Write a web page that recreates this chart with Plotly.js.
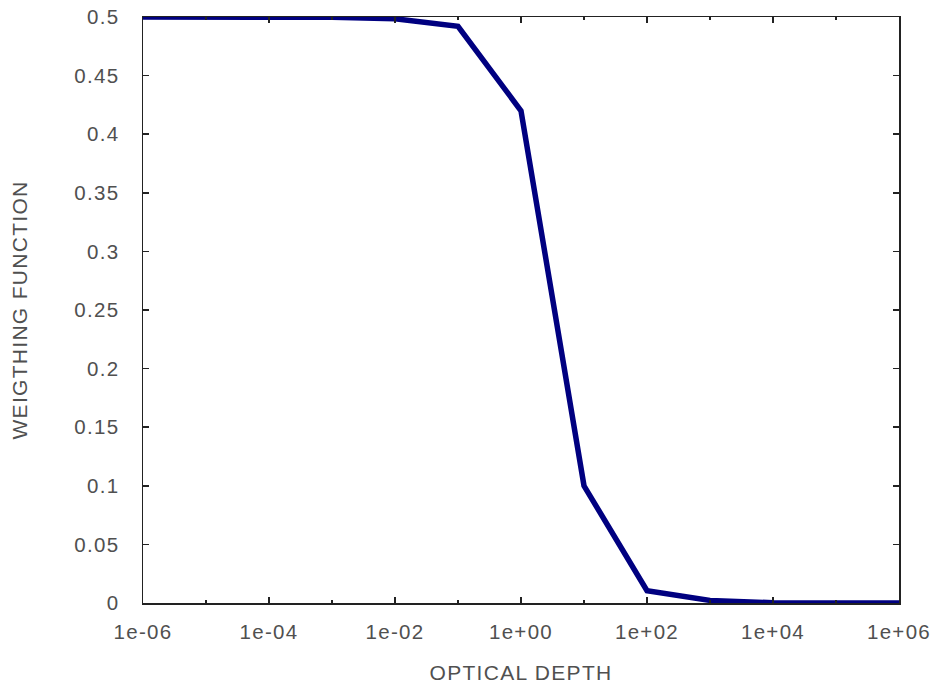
<!DOCTYPE html>
<html>
<head>
<meta charset="utf-8">
<script src="https://cdn.plot.ly/plotly-3.0.1.min.js"></script>
<style>
html,body{margin:0;padding:0;background:#fff;}
#chart{width:932px;height:684px;}
#chart svg text{letter-spacing:1.3px;}
</style>
</head>
<body>
<div id="chart"></div>
<script>
// Data
const opticalDepth = [1e-6, 1e-5, 1e-4, 1e-3, 1e-2, 1e-1, 1e0, 1e1, 1e2, 1e3, 1e4, 1e5, 1e6];
const weighting    = [0.5, 0.5, 0.5, 0.4997, 0.4985, 0.492, 0.42, 0.1, 0.0105, 0.0022, 0.0002, 0.0, 0.0];

const xMajorVals   = [1e-6, 1e-4, 1e-2, 1e0, 1e2, 1e4, 1e6];
const xMajorLabels = ["1e-06", "1e-04", "1e-02", "1e+00", "1e+02", "1e+04", "1e+06"];
const xMinorVals   = [1e-5, 1e-3, 1e-1, 1e1, 1e3, 1e5];
const yTickVals    = [0, 0.05, 0.1, 0.15, 0.2, 0.25, 0.3, 0.35, 0.4, 0.45, 0.5];
const yTickLabels  = ["0", "0.05", "0.1", "0.15", "0.2", "0.25", "0.3", "0.35", "0.4", "0.45", "0.5"];

const fontFam = "Liberation Sans, Arial, sans-serif";
const textColor = "#505050";

const trace = {
  x: opticalDepth,
  y: weighting,
  type: "scatter",
  mode: "lines",
  line: {color: "#000080", width: 5.5},
  hoverinfo: "skip"
};

const layout = {
  width: 932,
  height: 684,
  margin: {l: 143, r: 33, t: 17, b: 81},
  paper_bgcolor: "#fff",
  plot_bgcolor: "#fff",
  showlegend: false,
  font: {family: fontFam, size: 20, color: textColor},
  xaxis: {
    type: "log",
    range: [-6, 6],
    tickmode: "array",
    tickvals: xMajorVals,
    ticktext: xMajorLabels,
    ticks: "inside",
    ticklen: 6,
    tickwidth: 1.5,
    tickcolor: "#222",
    ticklabelstandoff: 10,
    minor: {tickmode: "array", tickvals: xMinorVals, ticks: "inside", ticklen: 3, tickwidth: 1.5, tickcolor: "#222", showgrid: false},
    showgrid: false,
    zeroline: false,
    showline: true,
    linecolor: "#222",
    linewidth: 1.5,
    mirror: "ticks",
    automargin: false,
    tickfont: {family: fontFam, size: 20.5, color: textColor},
    title: {text: "OPTICAL DEPTH", font: {family: fontFam, size: 21, color: textColor}, standoff: 25}
  },
  yaxis: {
    range: [0, 0.5],
    tickmode: "array",
    tickvals: yTickVals,
    ticktext: yTickLabels,
    ticks: "inside",
    ticklen: 6,
    tickwidth: 1.5,
    tickcolor: "#222",
    ticklabelstandoff: 18,
    showgrid: false,
    zeroline: false,
    showline: true,
    linecolor: "#222",
    linewidth: 1.5,
    mirror: "ticks",
    automargin: false,
    tickfont: {family: fontFam, size: 20.5, color: textColor},
    title: {text: "WEIGTHING FUNCTION", font: {family: fontFam, size: 21, color: textColor}, standoff: 46}
  }
};

Plotly.newPlot("chart", [trace], layout, {staticPlot: true, displayModeBar: false});
</script>
</body>
</html>
